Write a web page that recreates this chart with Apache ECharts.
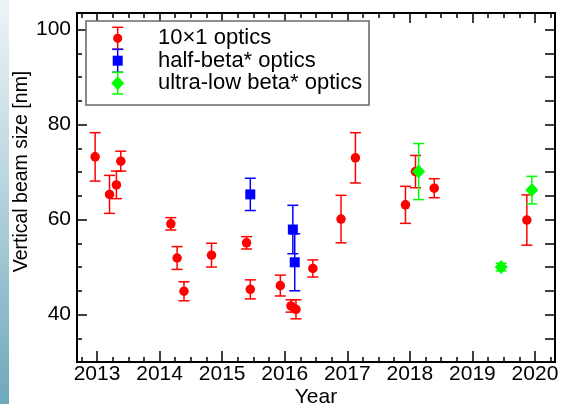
<!DOCTYPE html>
<html>
<head>
<meta charset="utf-8">
<script src="https://cdn.jsdelivr.net/npm/echarts@6/dist/echarts.min.js"></script>
<style>
html,body{margin:0;padding:0;background:#fff;}
#chart{width:564px;height:404px;}
</style>
</head>
<body>
<div id="chart"></div>
<script>
// ---- data ----
const seriesNames = ['10\u00d71 optics', 'half-beta* optics', 'ultra-low beta* optics'];
const seriesColors = ['#ff0000', '#0000ff', '#00ff00'];

const redX   = [2012.97, 2013.20, 2013.31, 2013.38, 2014.18, 2014.28, 2014.39, 2014.83, 2015.39, 2015.45, 2015.93, 2016.10, 2016.18, 2016.45, 2016.90, 2017.13, 2017.93, 2018.09, 2018.39, 2019.87];
const redY   = [73.2, 65.3, 67.3, 72.3, 59.1, 51.9, 44.9, 52.5, 55.1, 45.3, 46.1, 41.8, 41.1, 49.7, 60.1, 73.0, 63.1, 70.1, 66.6, 59.9];
const redErr = [5.1, 4.0, 2.9, 2.1, 1.3, 2.4, 2.0, 2.5, 1.3, 2.0, 2.2, 1.3, 2.0, 1.8, 5.0, 5.3, 3.9, 3.4, 2.0, 5.3];

const blueX   = [2015.45, 2016.13, 2016.16];
const blueY   = [65.3, 57.9, 51.0];
const blueErr = [3.4, 5.1, 6.0];

const greenX   = [2018.14, 2019.46, 2019.95];
const greenY   = [70.1, 50.0, 66.2];
const greenErr = [5.9, 0.8, 2.9];

// ---- axes ----
const xMin = 2012.68, xMax = 2020.32;
const yMin = 30, yMax = 103.5;
const xMajorTicks = [2013, 2014, 2015, 2016, 2017, 2018, 2019, 2020];
const yMajorTicks = [40, 60, 80, 100];
const xMinorTicks = [];
for (let i = 0; i <= 30; i++) xMinorTicks.push(2012.75 + i * 0.25);
const yMinorTicks = [];
for (let v = 30; v <= 100; v += 5) yMinorTicks.push(v);

const FONT = '"Liberation Sans", Arial, sans-serif';

function zip3(a, b, c) { return a.map((v, i) => [v, b[i], c[i]]); }

function errSeries(data, color) {
  return {
    type: 'custom',
    xAxisIndex: 0, yAxisIndex: 0,
    data: data,
    encode: { x: 0, y: 1 },
    silent: true,
    renderItem: function (params, api) {
      const x = api.value(0), y = api.value(1), e = api.value(2);
      const top = api.coord([x, y + e]);
      const bot = api.coord([x, y - e]);
      const hw = 5.5;
      const st = { stroke: color, lineWidth: 1.5 };
      return {
        type: 'group',
        children: [
          { type: 'line', shape: { x1: top[0], y1: top[1], x2: bot[0], y2: bot[1] }, style: st },
          { type: 'line', shape: { x1: top[0] - hw, y1: top[1], x2: top[0] + hw, y2: top[1] }, style: st },
          { type: 'line', shape: { x1: bot[0] - hw, y1: bot[1], x2: bot[0] + hw, y2: bot[1] }, style: st }
        ]
      };
    }
  };
}

function markSeries(name, data, color, symbol, size) {
  return {
    name: name,
    type: 'scatter',
    xAxisIndex: 0, yAxisIndex: 0,
    data: data.map(d => [d[0], d[1]]),
    symbol: symbol,
    symbolSize: size,
    itemStyle: { color: color, opacity: 1 },
    silent: true
  };
}

const redData = zip3(redX, redY, redErr);
const blueData = zip3(blueX, blueY, blueErr);
const greenData = zip3(greenX, greenY, greenErr);

function xAxisDef(pos, ticks, len, labels, extra) {
  return Object.assign({
    type: 'value', position: pos, min: xMin, max: xMax,
    axisLine: { show: true, onZero: false, lineStyle: { color: '#000', width: 2 } },
    axisTick: { show: true, inside: true, length: len, customValues: ticks, lineStyle: { color: '#000', width: 1.5 } },
    axisLabel: labels ? { show: true, customValues: xMajorTicks, color: '#000', fontFamily: FONT, fontSize: 21, margin: 2, formatter: v => String(Math.round(v)) } : { show: false },
    splitLine: { show: false }
  }, extra || {});
}
function yAxisDef(pos, ticks, len, labels, extra) {
  return Object.assign({
    type: 'value', position: pos, min: yMin, max: yMax,
    axisLine: { show: true, onZero: false, lineStyle: { color: '#000', width: 2 } },
    axisTick: { show: true, inside: true, length: len, customValues: ticks, lineStyle: { color: '#000', width: 1.5 } },
    axisLabel: labels ? { show: true, customValues: yMajorTicks, color: '#000', fontFamily: FONT, fontSize: 21, margin: 6, formatter: v => String(Math.round(v)) } : { show: false },
    splitLine: { show: false }
  }, extra || {});
}

// legend drawing (graphic)
const legendX = 117.7;
const legendRows = [38.3, 60.7, 83.3];
const legendCaps = [[27.3, 49.3], [49.3, 72.3], [72.3, 94]];
const legendGraphics = [
  { type: 'rect', shape: { x: 86, y: 21, width: 283, height: 84 }, style: { fill: '#fff', stroke: '#6a6a6a', lineWidth: 1.6 }, z: 10 }
];
const legendShapes = ['circle', 'rect', 'diamond'];
legendRows.forEach((ry, i) => {
  const c = seriesColors[i];
  const st = { stroke: c, lineWidth: 1.5 };
  const [t, b] = legendCaps[i];
  legendGraphics.push({ type: 'line', shape: { x1: legendX, y1: t, x2: legendX, y2: b }, style: st, z: 11 });
  legendGraphics.push({ type: 'line', shape: { x1: legendX - 5.5, y1: t, x2: legendX + 5.5, y2: t }, style: st, z: 11 });
  legendGraphics.push({ type: 'line', shape: { x1: legendX - 5.5, y1: b, x2: legendX + 5.5, y2: b }, style: st, z: 11 });
  if (legendShapes[i] === 'circle') {
    legendGraphics.push({ type: 'circle', shape: { cx: legendX, cy: ry, r: 4.6 }, style: { fill: c }, z: 12 });
  } else if (legendShapes[i] === 'rect') {
    legendGraphics.push({ type: 'rect', shape: { x: legendX - 5, y: ry - 5, width: 10, height: 10 }, style: { fill: c }, z: 12 });
  } else {
    legendGraphics.push({ type: 'polygon', shape: { points: [[legendX, ry - 7], [legendX + 6.5, ry], [legendX, ry + 7], [legendX - 6.5, ry]] }, style: { fill: c }, z: 12 });
  }
  legendGraphics.push({ type: 'text', x: 158, y: ry, style: { text: seriesNames[i], fill: '#000', font: '22px ' + FONT, textVerticalAlign: 'middle', textAlign: 'left' }, z: 12 });
});

const chart = echarts.init(document.getElementById('chart'), null, { renderer: 'canvas' });
chart.setOption({
  backgroundColor: '#ffffff',
  animation: false,
  grid: { left: 77, right: 9, top: 13, bottom: 42, containLabel: false, outerBoundsMode: 'none' },
  xAxis: [
    xAxisDef('bottom', xMajorTicks, 11, true, { name: 'Year', nameLocation: 'middle', nameGap: 25, nameMoveOverlap: false, nameTextStyle: { color: '#000', fontFamily: FONT, fontSize: 21 } }),
    xAxisDef('bottom', xMinorTicks, 5, false),
    xAxisDef('top', xMajorTicks, 10, false),
    xAxisDef('top', xMinorTicks, 5, false)
  ],
  yAxis: [
    yAxisDef('left', yMajorTicks, 10, true, { name: 'Vertical beam size [nm]', nameLocation: 'middle', nameGap: 45, nameMoveOverlap: false, nameTextStyle: { color: '#000', fontFamily: FONT, fontSize: 19.5, padding: [0, 0, 0, 32] } }),
    yAxisDef('left', yMinorTicks, 5, false),
    yAxisDef('right', yMinorTicks, 10, false)
  ],
  graphic: [
    { type: 'rect', shape: { x: 0, y: 0, width: 9, height: 404 }, style: { fill: new echarts.graphic.LinearGradient(0, 0, 0, 1, [
      { offset: 0, color: '#eef4f6' }, { offset: 0.45, color: '#b9d5df' }, { offset: 1, color: '#6ea8bb' }
    ]) }, z: 0 }
  ].concat(legendGraphics),
  series: [
    errSeries(redData, seriesColors[0]),
    markSeries(seriesNames[0], redData, seriesColors[0], 'circle', 9.5),
    errSeries(blueData, seriesColors[1]),
    markSeries(seriesNames[1], blueData, seriesColors[1], 'rect', 10),
    errSeries(greenData, seriesColors[2]),
    markSeries(seriesNames[2], greenData, seriesColors[2], 'diamond', [13, 14])
  ]
});
</script>
</body>
</html>
